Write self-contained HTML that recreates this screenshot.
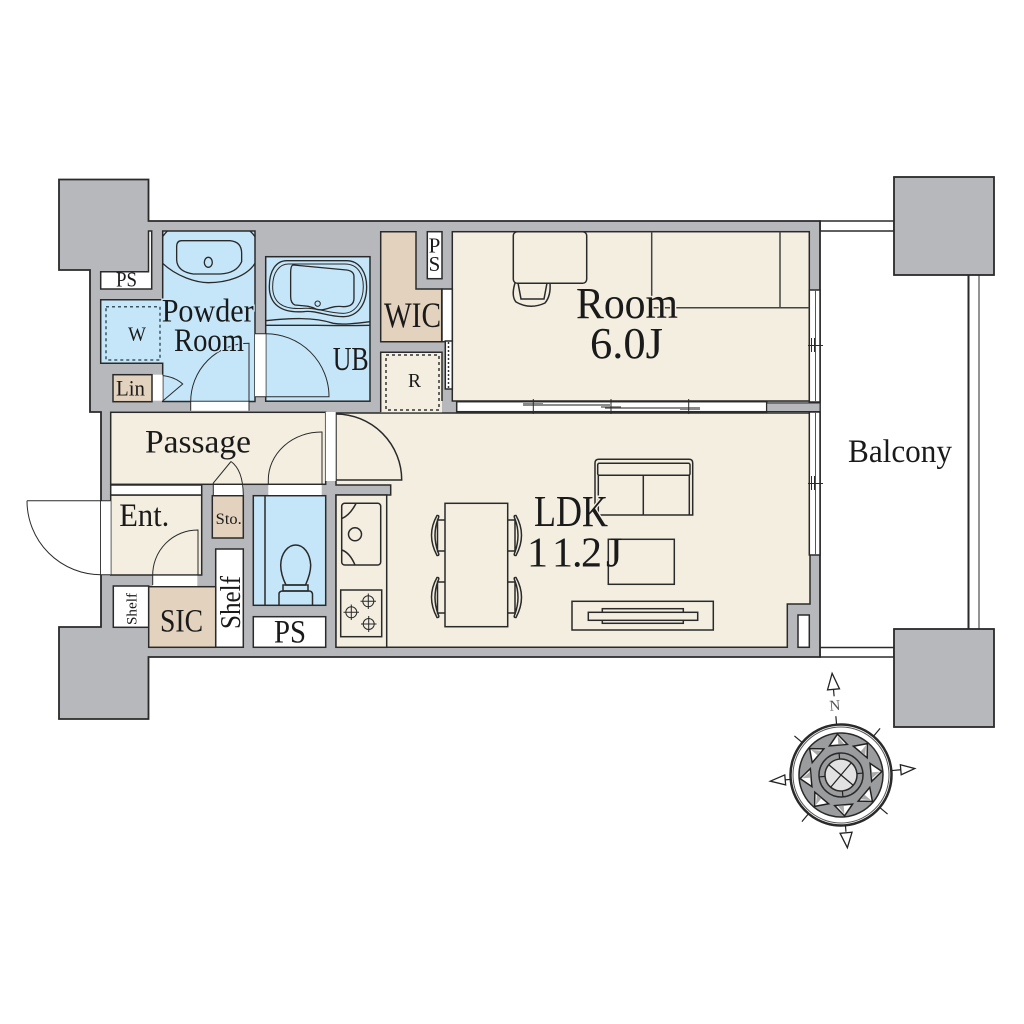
<!DOCTYPE html>
<html><head><meta charset="utf-8"><style>
html,body{margin:0;padding:0;background:#fff}
svg{display:block}
text{font-family:"Liberation Serif",serif;fill:#1a1a1a}
.l{fill:none;stroke:#2a2a2a;stroke-width:1.5}
.t{fill:none;stroke:#2a2a2a;stroke-width:1}
.r{stroke:#2a2a2a;stroke-width:1.5}
.c{fill:#f3eee0}.b{fill:#c5e6f9}.n{fill:#e3d2bd}.w{fill:#fff}
.g{fill:#b7b8bb;stroke:#2a2a2a;stroke-width:1.8}
.d{fill:none;stroke:#3d5560;stroke-width:1.5;stroke-dasharray:3 3}
.hb{paint-order:stroke;stroke:#c5e6f9;stroke-width:3}
.hc{paint-order:stroke;stroke:#f3eee0;stroke-width:3}
</style></head><body>
<svg width="1024" height="1024" viewBox="0 0 1024 1024" xmlns="http://www.w3.org/2000/svg">
<rect width="1024" height="1024" fill="#fff"/>
<!-- balcony -->
<rect x="820" y="221" width="74" height="10" class="w r"/>
<rect x="820" y="647.5" width="74" height="9.5" class="w r"/>
<line x1="968.5" y1="275" x2="968.5" y2="629" stroke="#2a2a2a" stroke-width="2"/>
<line x1="979" y1="275" x2="979" y2="629" stroke="#2a2a2a" stroke-width="1"/>
<rect x="894" y="177" width="100" height="98" class="g"/>
<rect x="894" y="629" width="100" height="98" class="g"/>
<!-- footprint -->
<polygon class="g" points="59,179.5 148.5,179.5 148.5,221 820,221 820,657 148.5,657 148.5,719 59,719 59,627 101,627 101,412 90,412 90,270 59,270"/>
<!-- wet rooms -->
<polygon class="b r" points="162.7,231 255,231 255,401.5 162.7,401.5 162.7,363.3 100.7,363.3 100.7,299.7 162.7,299.7"/>
<rect x="265.7" y="256.7" width="104.3" height="144.5" class="b r"/>
<rect x="253.3" y="495.7" width="72.4" height="109.6" class="b r"/>
<!-- white -->
<polygon class="w r" points="148.5,231 151.7,231 151.7,289 100.7,289 100.7,271.7 148.5,271.7"/>
<rect x="427.3" y="231.7" width="14.7" height="47" class="w r"/>
<rect x="152" y="374.7" width="10.7" height="26" class="w"/>
<rect x="255" y="334" width="10.7" height="63" class="w"/>
<rect x="190.7" y="401.7" width="58.3" height="9" class="w"/>
<rect x="113.3" y="586" width="35.4" height="41.3" class="w r"/>
<polygon class="w r" points="215.7,549 243.3,549 243.3,647.3 215.7,647.3"/>
<rect x="253.3" y="616.7" width="72.4" height="30.6" class="w r"/>
<rect x="798" y="615" width="11.3" height="32.3" class="w r"/>
<!-- brown -->
<polygon class="n r" points="380.7,231.7 416,231.7 416,289 441.7,289 441.7,341.7 380.7,341.7"/>
<rect x="113" y="374.7" width="39" height="27" class="n r"/>
<rect x="212.3" y="495.7" width="31" height="42.3" class="n r"/>
<rect x="148.7" y="586.7" width="67" height="60.6" class="n r"/>
<!-- cream -->
<rect x="452.3" y="231.7" width="357" height="169.3" class="c r"/>
<rect x="110.7" y="412.3" width="215" height="72" class="c r"/>
<rect x="110.7" y="495" width="91" height="80" class="c r"/>
<polygon class="c r" points="336,413 810,413 810,604 787.3,604 787.3,647.3 336,647.3 336,495 390.7,495 390.7,485 336,485"/>
<rect x="380.7" y="352.3" width="61.3" height="60" class="c"/>
<path class="l" d="M380.7 412V352.3H442V401"/>
<rect x="336" y="495" width="50.7" height="152.3" class="c r"/>
<!-- door whites -->
<rect x="325.7" y="412" width="10" height="69" class="w"/>
<rect x="110.7" y="485" width="91" height="10" class="w r"/>
<rect x="213.3" y="485" width="30" height="10" class="w"/>
<rect x="268.3" y="485" width="53.4" height="10" class="w"/>
<rect x="101" y="500.7" width="9.7" height="74" class="w"/>
<rect x="152.7" y="575.7" width="44.6" height="10.3" class="w"/>
<rect x="442" y="289" width="10.3" height="52.7" class="w r"/>
<rect x="445.3" y="341" width="7" height="48" class="w r"/>
<line x1="448.5" y1="342" x2="448.5" y2="388" stroke="#333" stroke-width="1.5" stroke-dasharray="2 2"/>
<rect x="456.7" y="401.7" width="310" height="10" class="w r"/>
<rect x="809.3" y="290" width="10.7" height="112" class="w r"/>
<rect x="809.3" y="412" width="10.7" height="143" class="w r"/>
<line x1="815.5" y1="290" x2="815.5" y2="402" stroke="#555" stroke-width="1"/>
<line x1="815.5" y1="412" x2="815.5" y2="555" stroke="#555" stroke-width="1"/>
<rect x="766.7" y="403" width="53.3" height="8.5" class="g" style="stroke-width:1"/>
<!-- sliding doors -->
<path d="M523 405H610M605 408H680" stroke="#666" stroke-width="1.5" fill="none"/>
<path d="M523 404.5H543M680 408.5H700" stroke="#888" stroke-width="3" fill="none"/>
<path class="t" d="M533.3 399V414M611 399V414M688.7 399V414M601 407H621M808 345.5H823M808 483.5H823M811.5 338V352M814.5 338V352M811.5 476V490M814.5 476V490"/>
<!-- door swings -->
<path class="t" d="M190.7 410.7V401.7A58.3 58.3 0 0 1 249 343.3V410.7"/>
<path class="t" d="M255 396.7H329A63 63 0 0 0 265.7 333.7H255"/>
<path class="t" d="M162.7 375.5Q175 377 182.7 384L162.7 401"/>
<path class="t" d="M27 500.7H110.7M27 500.7A74 74 0 0 0 101 574.7H110.7"/>
<path class="t" d="M152.7 585V575.7A45 45 0 0 1 198 530V575"/>
<path class="t" d="M268.3 485V480A53 48 0 0 1 322 432V485"/>
<path class="t" d="M213.3 495V483L231 461.5 M231 461.5Q243 470 243.3 495"/>
<path class="l" d="M336 414A66 66 0 0 1 401.7 480H336"/>
<!-- sink powder -->
<g transform="translate(50 170) scale(.3333)">
<path class="l" style="stroke-width:4" d="M338 280C380 320 440 338 475 338C530 338 590 320 615 280M338 200Q345 190 352 183M615 200Q608 190 600 183"/>
<path class="l" style="stroke-width:4" d="M395 212H540Q575 215 575 250V275Q560 310 510 312H430Q382 305 380 270V230Q380 212 395 212Z"/>
<ellipse cx="475" cy="277" rx="12" ry="15" class="l" style="stroke-width:4"/>
<path class="l" style="stroke-width:4" d="M710 272H890C930 272 950 310 950 350C950 400 925 440 880 440C830 440 800 420 760 425C690 430 658 400 658 350C658 300 680 272 710 272Z"/>
<path class="l" style="stroke-width:3" d="M715 282H885C925 282 940 315 940 350C940 395 915 430 880 430C835 430 800 412 760 415C695 420 668 395 668 350C668 305 690 282 715 282Z"/>
<path class="l" style="stroke-width:4" d="M730 285L890 300Q912 303 912 320V385Q912 410 880 410C840 405 830 425 800 418C780 408 770 408 735 405Q722 400 722 380V310Q722 285 730 285Z"/>
<circle cx="803" cy="401" r="8" class="l" style="stroke-width:3"/>
<path class="l" style="stroke-width:4" d="M647 452C720 445 790 440 850 460C880 465 920 460 960 455M647 466H800C830 466 860 468 960 466"/>
</g>
<rect x="106" y="306.7" width="54" height="53.3" class="d"/>
<rect x="386" y="355" width="53" height="55" class="d" style="stroke:#333"/>
<!-- toilet -->
<line x1="265" y1="495.7" x2="265" y2="605" class="l"/>
<path class="l" d="M286 585C281 575 280.7 568 280.7 565C281 553 288 545 295.7 545C303.5 545 310 553 310.7 565C310.7 568 310 575 305.5 585Z"/>
<path class="l" d="M283 585H308V591H283Z"/>
<path class="l" d="M279 605V594Q279 591 283 591H309Q312 591 312.5 594V605"/>
<!-- kitchen -->
<rect x="341.7" y="503.3" width="39" height="61.7" rx="3" class="l"/>
<circle cx="355" cy="534.3" r="6.5" class="l"/>
<path class="l" d="M356 503.5Q350 515 342 518.5M342 550Q350 553 355 565"/>
<rect x="340.7" y="590" width="41" height="46.7" class="l"/>
<g class="t">
<circle cx="368.3" cy="601.3" r="5.5"/><path d="M368.3 593.5V609M360.5 601.3H376"/>
<circle cx="351.3" cy="612.3" r="5.5"/><path d="M351.3 604.5V620M343.5 612.3H359"/>
<circle cx="368.7" cy="624" r="5.5"/><path d="M368.7 616V632M361 624H376.5"/>
</g>
<!-- room furniture -->
<rect x="513.3" y="231.7" width="73.4" height="51.6" rx="4" class="l"/>
<path class="l" d="M515 283Q511 296 516 302Q530 310 545 303Q551 296 550 283M518 283L521 299H544L547 283"/>
<path class="l" d="M651.7 231.7V307.7M780 231.7V307.7M651.7 307.7H809.3" style="stroke:#444"/>
<!-- dining -->
<rect x="445" y="503.3" width="62.7" height="123.4" class="l"/>
<g class="l">
<path d="M445 520H437.5V551H445M437 515.5Q426 535 437 555.5Q440 556 438 552Q432 535 438 519Q440 515 437 515.5Z"/>
<path d="M445 582H437.5V613H445M437 577.5Q426 597 437 617.5Q440 618 438 614Q432 597 438 581Q440 577 437 577.5Z"/>
<path d="M507.7 520H515V551H507.7M516 515.5Q527 535 516 555.5Q513 556 515 552Q521 535 515 519Q513 515 516 515.5Z"/>
<path d="M507.7 582H515V613H507.7M516 577.5Q527 597 516 617.5Q513 618 515 614Q521 597 515 581Q513 577 516 577.5Z"/>
</g>
<!-- sofa -->
<path class="l" d="M598 515H692.7V463Q692.7 459.3 689 459.3H599Q595 459.3 595 463V505"/>
<rect x="597.7" y="463.3" width="92.3" height="12" rx="1.5" class="l"/>
<path class="l" d="M598.3 475.3V515M689.3 475.3V515M643.3 475.3V515"/>
<rect x="608.3" y="539.3" width="66" height="45" class="l"/>
<rect x="572" y="601.3" width="141.3" height="28.7" class="l"/>
<rect x="602.3" y="608.7" width="81" height="14.6" class="l"/>
<rect x="588.3" y="612.3" width="109.4" height="8" class="c r"/>
<!-- labels -->
<text class="hb" x="161.7" y="321.7" font-size="33" textLength="92" lengthAdjust="spacingAndGlyphs">Powder</text>
<text class="hb" x="174" y="351" font-size="33" textLength="70" lengthAdjust="spacingAndGlyphs">Room</text>
<text x="332.7" y="370" font-size="34" textLength="36" lengthAdjust="spacingAndGlyphs">UB</text>
<text x="128" y="340.7" font-size="20" textLength="18" lengthAdjust="spacingAndGlyphs">W</text>
<text x="116" y="286.7" font-size="21" textLength="21" lengthAdjust="spacingAndGlyphs">PS</text>
<text x="116" y="395.7" font-size="22" textLength="29" lengthAdjust="spacingAndGlyphs">Lin</text>
<text x="145" y="452.7" font-size="33" textLength="106" lengthAdjust="spacingAndGlyphs">Passage</text>
<text x="119.3" y="526" font-size="33" textLength="50" lengthAdjust="spacingAndGlyphs">Ent.</text>
<text x="215.7" y="524" font-size="16" textLength="26" lengthAdjust="spacingAndGlyphs">Sto.</text>
<text transform="translate(136.7 625) rotate(-90)" font-size="15" textLength="32" lengthAdjust="spacingAndGlyphs">Shelf</text>
<text transform="translate(240 629) rotate(-90)" font-size="29" textLength="53" lengthAdjust="spacingAndGlyphs">Shelf</text>
<text x="160" y="631.7" font-size="33" textLength="43" lengthAdjust="spacingAndGlyphs">SIC</text>
<text x="274" y="642.7" font-size="33" textLength="32" lengthAdjust="spacingAndGlyphs">PS</text>
<text x="434.5" y="252.3" font-size="21" text-anchor="middle">P</text>
<text x="434.5" y="271" font-size="21" text-anchor="middle">S</text>
<text x="408" y="387" font-size="20" textLength="13" lengthAdjust="spacingAndGlyphs">R</text>
<text x="384" y="327" font-size="36" textLength="57" lengthAdjust="spacingAndGlyphs">WIC</text>
<text class="hc" x="576" y="318" font-size="44" textLength="102" lengthAdjust="spacingAndGlyphs">Room</text>
<text class="hc" x="590" y="358" font-size="44" textLength="73" lengthAdjust="spacingAndGlyphs">6.0J</text>
<text class="hc" x="534" y="526" font-size="44" textLength="74" lengthAdjust="spacingAndGlyphs">LDK</text>
<text x="527 552 572 581 606" y="566.7" font-size="42">11.2J</text>
<text x="848" y="462" font-size="33" textLength="104" lengthAdjust="spacingAndGlyphs">Balcony</text>
<!-- compass -->
<g transform="translate(841 775) rotate(-5)">
<circle r="50.5" fill="#fff" stroke="#2a2a2a" stroke-width="2.5"/>
<circle r="48" fill="none" stroke="#555" stroke-width="1"/>
<circle r="42" fill="#9b9c9e" stroke="#2a2a2a" stroke-width="1.5"/>
<g transform="rotate(0)"><polygon points="0,-41 -9,-30 9,-30" fill="#fff" stroke="#222" stroke-width="1.5"/><polygon points="0,-39 0,-30.5 6,-30.5" fill="#aaa"/></g>
<g transform="rotate(45)"><polygon points="0,-41 -9,-30 9,-30" fill="#fff" stroke="#222" stroke-width="1.5"/><polygon points="0,-39 0,-30.5 6,-30.5" fill="#aaa"/></g>
<g transform="rotate(90)"><polygon points="0,-41 -9,-30 9,-30" fill="#fff" stroke="#222" stroke-width="1.5"/><polygon points="0,-39 0,-30.5 6,-30.5" fill="#aaa"/></g>
<g transform="rotate(135)"><polygon points="0,-41 -9,-30 9,-30" fill="#fff" stroke="#222" stroke-width="1.5"/><polygon points="0,-39 0,-30.5 6,-30.5" fill="#aaa"/></g>
<g transform="rotate(180)"><polygon points="0,-41 -9,-30 9,-30" fill="#fff" stroke="#222" stroke-width="1.5"/><polygon points="0,-39 0,-30.5 6,-30.5" fill="#aaa"/></g>
<g transform="rotate(225)"><polygon points="0,-41 -9,-30 9,-30" fill="#fff" stroke="#222" stroke-width="1.5"/><polygon points="0,-39 0,-30.5 6,-30.5" fill="#aaa"/></g>
<g transform="rotate(270)"><polygon points="0,-41 -9,-30 9,-30" fill="#fff" stroke="#222" stroke-width="1.5"/><polygon points="0,-39 0,-30.5 6,-30.5" fill="#aaa"/></g>
<g transform="rotate(315)"><polygon points="0,-41 -9,-30 9,-30" fill="#fff" stroke="#222" stroke-width="1.5"/><polygon points="0,-39 0,-30.5 6,-30.5" fill="#aaa"/></g>
<circle r="22" fill="#9b9c9e" stroke="#2a2a2a" stroke-width="1.5"/>
<circle r="16" fill="#e2e2e2" stroke="#2a2a2a" stroke-width="1.5"/>
<path d="M-11 -11L11 11M-11 11L11 -11M0 -22V-16M0 22V16M-22 0H-16M22 0H16" stroke="#222" stroke-width="1.2" fill="none"/>
<path d="M0 -51V-59M36 -36L43 -43M51 0H60M36 36L43 43M0 51V57M-36 36L-43 43M-51 0H-56M-36 -36L-43 -43" stroke="#222" stroke-width="1.2" fill="none"/>
<path d="M0 -79V-86" stroke="#222" stroke-width="1.2"/>
<polygon points="0,-102 -6,-86 6,-86" fill="#fff" stroke="#222" stroke-width="1.3"/>
<polygon points="74,0 60,-5 60,5" fill="#fff" stroke="#222" stroke-width="1.3"/>
<polygon points="-71,0 -56,-5 -56,5" fill="#fff" stroke="#222" stroke-width="1.3"/>
<polygon points="0,73 -6,58 6,58" fill="#fff" stroke="#222" stroke-width="1.3"/>
<text x="0" y="-65" font-size="15" text-anchor="middle" style="fill:#555">N</text>
</g>
</svg>
</body></html>
